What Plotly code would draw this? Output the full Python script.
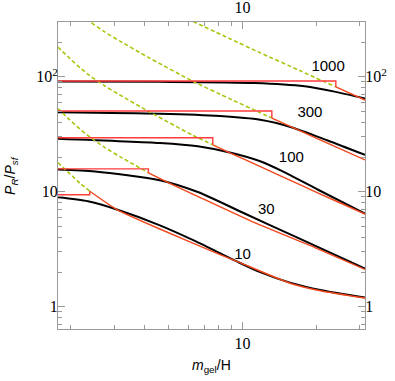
import math
import plotly.graph_objects as go

# axis limits (m_gel/H and P_R/P_sf)
m_lo, m_hi = 1.775, 31.5
p_lo, p_hi = 0.64, 299

labels = ["1000", "300", "100", "30", "10"]

# black curves
m_k1000 = [1.77, 4.61, 11.2, 17.9, 23.7, 31.5]
p_k1000 = [90.8, 90.3, 88.2, 82.5, 74.2, 64.6]
m_k300 = [1.77, 4.61, 8.08, 11.8, 15.9, 22.2, 31.5]
p_k300 = [49.0, 47.6, 45.5, 42.2, 36.2, 27.9, 20.9]
m_k100 = [1.77, 4.61, 6.58, 9.05, 11.8, 14.5, 20.2, 31.5]
p_k100 = [28.9, 26.5, 24.8, 21.7, 18.4, 15.1, 10.45, 6.44]
m_k30 = [1.77, 2.51, 4.61, 6.58, 10.2, 16.3, 31.5]
p_k30 = [15.6, 15.0, 12.6, 9.94, 6.46, 4.09, 2.15]
m_k10 = [1.77, 2.35, 3.08, 4.61, 6.40, 9.57, 11.8, 15.6, 21.0, 31.5]
p_k10 = [8.94, 8.25, 7.0, 5.10, 3.73, 2.45, 2.00, 1.62, 1.39, 1.20]

# red: flat level up to the step, then the falling branch
red_level = [91.8, 50.3, 29.5, 15.8, 9.42]
red_step = [23.97, 13.16, 7.57, 4.14, 2.39]
m_r1000 = [23.97, 31.5]
p_r1000 = [81.4, 62.7]
m_r300 = [13.16, 17.1, 23.97, 31.5]
p_r300 = [43.7, 33.9, 24.5, 18.9]
m_r100 = [7.57, 8.88, 11.76, 17.1, 23.97, 31.5]
p_r100 = [25.6, 21.8, 16.6, 11.5, 8.30, 6.40]
m_r30 = [4.14, 5.16, 6.40, 11.2, 19.7, 31.5]
p_r30 = [14.6, 11.6, 9.36, 5.38, 3.27, 2.11]
m_r10 = [2.39, 3.08, 4.61, 8.24, 9.75, 15.6, 21.0, 31.5]
p_r10 = [10.1, 7.0, 4.74, 2.80, 2.42, 1.60, 1.37, 1.19]

# green dashed curves
m_g1000 = [6.28, 8.88, 11.76, 17.1, 23.97]
p_g1000 = [303, 214, 162, 113, 81.4]
m_g300 = [2.32, 2.39, 2.75, 3.17, 4.12, 6.28, 8.88, 11.76, 13.16]
p_g300 = [319, 302, 245, 204, 148, 91.2, 64.2, 48.8, 43.7]
m_g100 = [1.773, 1.984, 2.178, 2.392, 2.753, 3.169, 4.119, 6.279, 7.572]
p_g100 = [181, 144, 120, 102, 83.0, 69.3, 50.3, 30.9, 25.6]
m_g30 = [1.773, 1.984, 2.178, 2.392, 2.753, 3.169, 4.14]
p_g30 = [52.9, 42.0, 35.1, 29.9, 24.2, 20.2, 14.6]
m_g10 = [1.773, 1.984, 2.178, 2.39]
p_g10 = [17.9, 14.3, 11.9, 10.1]

# curve labels
lab_m = [22.3, 18.8, 15.8, 12.5, 10.0]
lab_p = [121, 47.9, 19.6, 6.9, 2.83]

y_major = [1, 10, 100]
y_major_text = ["1", "10", "10<sup>2</sup>"]
y_minor = [0.7, 0.8, 0.9, 2, 3, 4, 5, 6, 7, 8, 9, 20, 30, 40, 50, 60, 70, 80, 90, 200]
x_major = [10]
x_major_text = ["10"]
x_minor = [2, 3, 4, 5, 6, 7, 8, 9, 20, 30]

blacks = [(m_k1000, p_k1000), (m_k300, p_k300), (m_k100, p_k100), (m_k30, p_k30), (m_k10, p_k10)]
reds = [(m_r1000, p_r1000), (m_r300, p_r300), (m_r100, p_r100), (m_r30, p_r30), (m_r10, p_r10)]
greens = [(m_g1000, p_g1000), (m_g300, p_g300), (m_g100, p_g100), (m_g30, p_g30), (m_g10, p_g10)]

fig = go.Figure()

for m, p in blacks:
    fig.add_trace(go.Scatter(x=m, y=p, mode="lines", hoverinfo="skip",
                             line=dict(color="black", width=2, shape="spline", smoothing=0.7)))

for m, p in greens:
    fig.add_trace(go.Scatter(x=m, y=p, mode="lines", hoverinfo="skip",
                             line=dict(color="#a6c60f", width=1.6, dash="4px,2.5px",
                                       shape="spline", smoothing=0.5)))

for lev, step, (m, p) in zip(red_level, red_step, reds):
    # flat part + vertical jump
    fig.add_trace(go.Scatter(x=[m_lo, step, step], y=[lev, lev, p[0]], mode="lines",
                             hoverinfo="skip", line=dict(color="#ff3b3b", width=1.4)))
    fig.add_trace(go.Scatter(x=m, y=p, mode="lines", hoverinfo="skip",
                             line=dict(color="#f2461c", width=1.4, shape="spline", smoothing=0.5)))

fig.add_trace(go.Scatter(x=lab_m, y=lab_p, text=labels, mode="text", hoverinfo="skip",
                         textfont=dict(family="Liberation Sans, Arial", size=15, color="black")))

# dummy trace so the mirrored top/right axes get drawn
fig.add_trace(go.Scatter(x=[10], y=[10], xaxis="x2", yaxis="y2", mode="markers",
                         marker=dict(opacity=0, size=1), hoverinfo="skip"))

tick_font = dict(family="Liberation Serif, Times New Roman, serif", size=16, color="black")
xrange = [math.log10(m_lo), math.log10(m_hi)]
yrange = [math.log10(p_lo), math.log10(p_hi)]

common_x = dict(type="log", range=xrange, tickmode="array", tickvals=x_major, ticktext=x_major_text,
                ticks="inside", ticklen=7, tickcolor="#999", tickwidth=1, automargin=False,
                showline=True, linecolor="#999", linewidth=1, showgrid=False, zeroline=False,
                tickfont=tick_font,
                minor=dict(tickvals=x_minor, ticks="inside", ticklen=4, tickcolor="#999", showgrid=False))
common_y = dict(type="log", range=yrange, tickmode="array", tickvals=y_major, ticktext=y_major_text,
                ticks="inside", ticklen=7, tickcolor="#999", tickwidth=1, automargin=False,
                showline=True, linecolor="#999", linewidth=1, showgrid=False, zeroline=False,
                tickfont=tick_font, ticklabelstandoff=-4,
                minor=dict(tickvals=y_minor, ticks="inside", ticklen=4, tickcolor="#999", showgrid=False))

fig.update_layout(
    width=395, height=381,
    margin=dict(l=58, r=30, t=22, b=52),
    paper_bgcolor="white", plot_bgcolor="white",
    showlegend=False,
    xaxis=dict(common_x, side="bottom", ticklabelstandoff=0),
    yaxis=dict(common_y, side="left"),
    xaxis2=dict(common_x, side="top", overlaying="x", anchor="y", ticklabelstandoff=2),
    yaxis2=dict(common_y, side="right", overlaying="y", anchor="x"),
    annotations=[
        dict(text="<i>m</i><sub>gel</sub>/H", xref="paper", yref="paper", x=0.5, y=-0.122,
             showarrow=False, xanchor="center", yanchor="middle",
             font=dict(family="Liberation Sans, Arial", size=14, color="black")),
        dict(text="<i>P</i><sub><i>R</i></sub>/<i>P</i><sub><i>sf</i></sub>", xref="paper", yref="paper",
             x=-0.155, y=0.5, textangle=-90, showarrow=False, xanchor="center", yanchor="middle",
             font=dict(family="Liberation Sans, Arial", size=14, color="black")),
    ],
)

# browser default body margin would shift the whole figure by 8px
fig.write_html("out.html", config={"displayModeBar": False},
               post_script="document.body.style.margin='0';")
